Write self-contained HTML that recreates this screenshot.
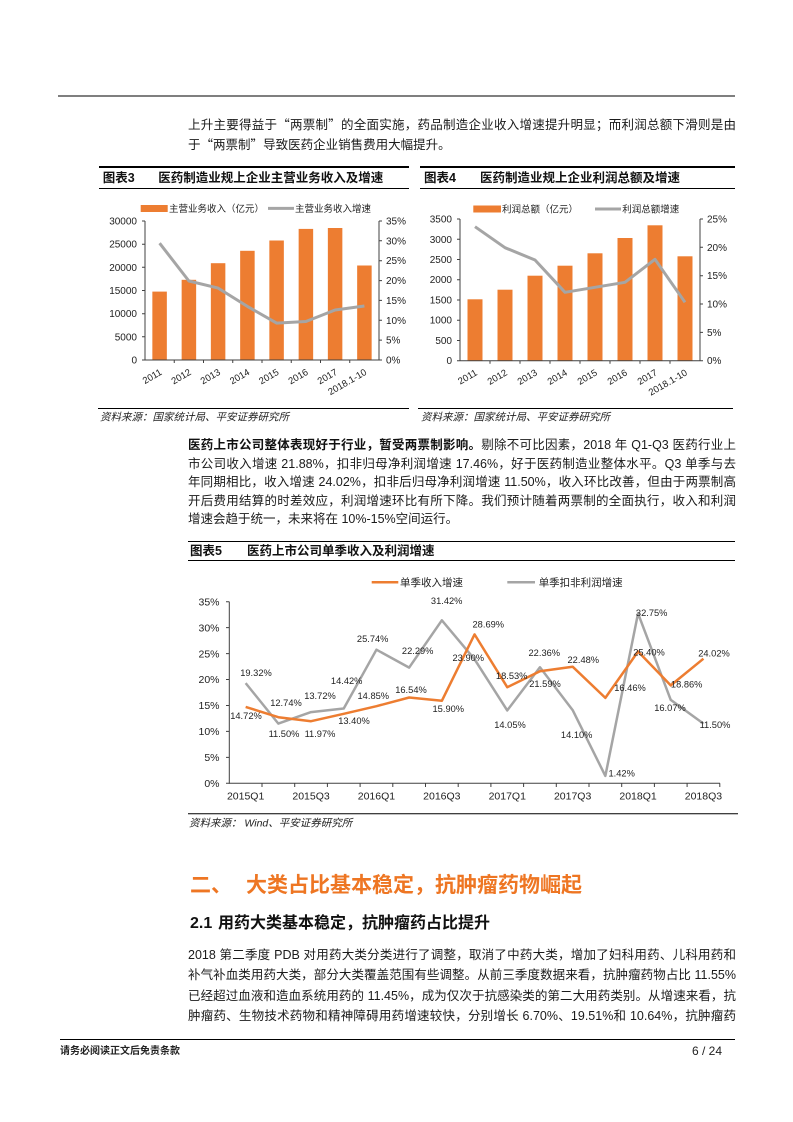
<!DOCTYPE html>
<html>
<head>
<meta charset="utf-8">
<style>
html,body{margin:0;padding:0;background:#fff;}
body{width:793px;height:1122px;position:relative;overflow:hidden;font-family:"Liberation Sans","Noto Sans CJK SC",sans-serif;color:#222;}
.ab{position:absolute;white-space:nowrap;}
.ln{position:absolute;left:188px;width:548px;white-space:nowrap;font-size:12.5px;line-height:18px;height:18px;text-align:justify;text-align-last:justify;color:#1a1a1a;}
.ll{text-align:left;text-align-last:left;}
.q{font-family:"Noto Sans CJK SC",sans-serif;}
.hd{position:absolute;font-size:12.5px;font-weight:700;line-height:16px;color:#111;white-space:nowrap;}
.rule{position:absolute;background:#000;}
svg text{font-family:"Liberation Sans","Noto Sans CJK SC",sans-serif;fill:#222;}
</style>
</head>
<body>

<div class="rule" style="left:58px;top:95px;width:677px;height:2px;background:#7f7f7f;"></div>

<div class="ln" style="top:115px;">上升主要得益于<span class="q">“</span>两票制<span class="q">”</span>的全面实施，药品制造企业收入增速提升明显；而利润总额下滑则是由</div>
<div class="ln ll" style="top:134.7px;">于<span class="q">“</span>两票制<span class="q">”</span>导致医药企业销售费用大幅提升。</div>

<div class="rule" style="left:99px;top:166px;width:310px;height:1.5px;"></div>
<div class="rule" style="left:99px;top:187.5px;width:310px;height:1px;"></div>
<div class="hd" style="left:102.7px;top:169.5px;">图表3</div>
<div class="hd" style="left:158.3px;top:169.5px;">医药制造业规上企业主营业务收入及增速</div>

<div class="rule" style="left:420px;top:166px;width:315px;height:1.5px;"></div>
<div class="rule" style="left:420px;top:187.5px;width:315px;height:1px;"></div>
<div class="hd" style="left:424px;top:169.5px;">图表4</div>
<div class="hd" style="left:480px;top:169.5px;">医药制造业规上企业利润总额及增速</div>

<div class="ln" style="top:436px;"><b style="color:#111;">医药上市公司整体表现好于行业，暂受两票制影响。</b>剔除不可比因素，2018 年 Q1-Q3 医药行业上</div>
<div class="ln" style="top:454.6px;">市公司收入增速 21.88%，扣非归母净利润增速 17.46%，好于医药制造业整体水平。Q3 单季与去</div>
<div class="ln" style="top:473.2px;">年同期相比，收入增速 24.02%，扣非后归母净利润增速 11.50%，收入环比改善，但由于两票制高</div>
<div class="ln" style="top:491.8px;">开后费用结算的时差效应，利润增速环比有所下降。我们预计随着两票制的全面执行，收入和利润</div>
<div class="ln ll" style="top:510.4px;">增速会趋于统一，未来将在 10%-15%空间运行。</div>

<div class="rule" style="left:188px;top:540.5px;width:547px;height:1.5px;"></div>
<div class="rule" style="left:188px;top:559.5px;width:547px;height:1px;"></div>
<div class="hd" style="left:190px;top:543px;">图表5</div>
<div class="hd" style="left:247px;top:543px;">医药上市公司单季收入及利润增速</div>

<div class="ab" style="left:190px;top:873px;font-size:21px;line-height:26px;font-weight:700;color:#EE7623;">二、</div>
<div class="ab" style="left:246px;top:873px;font-size:21px;line-height:26px;font-weight:700;color:#EE7623;">大类占比基本稳定，抗肿瘤药物崛起</div>
<div class="ab" style="left:190px;top:913px;font-size:16px;line-height:21px;font-weight:700;color:#111;">2.1</div>
<div class="ab" style="left:218px;top:913px;font-size:16px;line-height:21px;font-weight:700;color:#111;">用药大类基本稳定，抗肿瘤药占比提升</div>

<div class="ln" style="top:945.5px;">2018 第二季度 PDB 对用药大类分类进行了调整，取消了中药大类，增加了妇科用药、儿科用药和</div>
<div class="ln" style="top:966px;">补气补血类用药大类，部分大类覆盖范围有些调整。从前三季度数据来看，抗肿瘤药物占比 11.55%</div>
<div class="ln" style="top:986.5px;">已经超过血液和造血系统用药的 11.45%，成为仅次于抗感染类的第二大用药类别。从增速来看，抗</div>
<div class="ln" style="top:1007px;">肿瘤药、生物技术药物和精神障碍用药增速较快，分别增长 6.70%、19.51%和 10.64%，抗肿瘤药</div>

<div class="rule" style="left:60px;top:1039px;width:675px;height:1px;"></div>
<div class="ab" style="left:60px;top:1045px;font-size:10px;line-height:13px;font-weight:700;color:#222;">请务必阅读正文后免责条款</div>
<div class="ab" style="left:682px;width:40px;text-align:right;top:1044px;font-size:12px;line-height:15px;color:#222;">6 / 24</div>

<svg width="793" height="1122" style="position:absolute;left:0;top:0;" xmlns="http://www.w3.org/2000/svg">
<g>
<rect x="140.7" y="205" width="27" height="7" fill="#ED7D31"/>
<text x="169" y="211.8" font-size="9.5">主营业务收入（亿元）</text>
<line x1="268" y1="208.4" x2="294" y2="208.4" stroke="#A5A5A5" stroke-width="3"/>
<text x="295" y="211.8" font-size="9.5">主营业务收入增速</text>

<g fill="#ED7D31">
<rect x="152.35" y="291.6" width="14.5" height="68.4"/>
<rect x="181.65" y="279.8" width="14.5" height="80.2"/>
<rect x="210.85" y="263.2" width="14.5" height="96.8"/>
<rect x="240.15" y="250.8" width="14.5" height="109.2"/>
<rect x="269.35" y="240.5" width="14.5" height="119.5"/>
<rect x="298.65" y="228.9" width="14.5" height="131.1"/>
<rect x="327.85" y="228" width="14.5" height="132"/>
<rect x="357.15" y="265.5" width="14.5" height="94.5"/>
</g>
<g stroke="#404040" stroke-width="1" fill="none">
<line x1="145" y1="221" x2="145" y2="360.5"/>
<line x1="145" y1="360" x2="379" y2="360"/>
<line x1="379" y1="221" x2="379" y2="360.5"/>
<path d="M142 360H145M142 336.8H145M142 313.7H145M142 290.5H145M142 267.3H145M142 244.2H145M142 221H145"/>
<path d="M379 360H382M379 340.1H382M379 320.3H382M379 300.4H382M379 280.6H382M379 260.7H382M379 240.8H382M379 221H382"/>
<path d="M174.25 360V363M203.5 360V363M232.75 360V363M262 360V363M291.25 360V363M320.5 360V363M349.75 360V363"/>
</g>
<polyline points="159.6,243.2 188.9,281 218.1,288.1 247.4,306.4 276.6,323.1 305.9,321.5 335.1,310 364.4,306" fill="none" stroke="#A5A5A5" stroke-width="3" stroke-linejoin="round"/>
<g font-size="10" text-anchor="end">
<text x="137" y="363.5">0</text>
<text x="137" y="340.3">5000</text>
<text x="137" y="317.2">10000</text>
<text x="137" y="294">15000</text>
<text x="137" y="270.8">20000</text>
<text x="137" y="247.7">25000</text>
<text x="137" y="224.5">30000</text>
</g>
<g font-size="10">
<text x="386" y="363.5">0%</text>
<text x="386" y="343.6">5%</text>
<text x="386" y="323.8">10%</text>
<text x="386" y="303.9">15%</text>
<text x="386" y="284.1">20%</text>
<text x="386" y="264.2">25%</text>
<text x="386" y="244.3">30%</text>
<text x="386" y="224.5">35%</text>
</g>
<g font-size="9.5" text-anchor="end">
<text x="162.6" y="374" transform="rotate(-30 162.6 374)">2011</text>
<text x="191.9" y="374" transform="rotate(-30 191.9 374)">2012</text>
<text x="221.1" y="374" transform="rotate(-30 221.1 374)">2013</text>
<text x="250.4" y="374" transform="rotate(-30 250.4 374)">2014</text>
<text x="279.6" y="374" transform="rotate(-30 279.6 374)">2015</text>
<text x="308.9" y="374" transform="rotate(-30 308.9 374)">2016</text>
<text x="338.1" y="374" transform="rotate(-30 338.1 374)">2017</text>
<text x="367.4" y="374" transform="rotate(-30 367.4 374)">2018.1-10</text>
</g>
<line x1="98" y1="408.5" x2="409" y2="408.5" stroke="#000" stroke-width="1"/>
<text x="100" y="420.5" font-size="10.5" font-style="italic" fill="#333">资料来源：国家统计局、平安证券研究所</text>
</g>

<g>
<rect x="473.3" y="205.5" width="27.7" height="7" fill="#ED7D31"/>
<text x="502" y="212.3" font-size="9.5">利润总额（亿元）</text>
<line x1="595" y1="209" x2="621" y2="209" stroke="#A5A5A5" stroke-width="3"/>
<text x="622.3" y="212.3" font-size="9.5">利润总额增速</text>

<g fill="#ED7D31">
<rect x="467.5" y="299.3" width="15" height="61.4"/>
<rect x="497.5" y="289.7" width="15" height="71"/>
<rect x="527.5" y="275.7" width="15" height="85"/>
<rect x="557.5" y="265.7" width="15" height="95"/>
<rect x="587.5" y="253.3" width="15" height="107.4"/>
<rect x="617.5" y="238" width="15" height="122.7"/>
<rect x="647.5" y="225.3" width="15" height="135.4"/>
<rect x="677.5" y="256.3" width="15" height="104.4"/>
</g>
<g stroke="#404040" stroke-width="1" fill="none">
<line x1="460" y1="219" x2="460" y2="361"/>
<line x1="460" y1="360.7" x2="700" y2="360.7"/>
<line x1="700" y1="219" x2="700" y2="361"/>
<path d="M457 360.7H460M457 340.5H460M457 320.2H460M457 300H460M457 279.7H460M457 259.5H460M457 239.3H460M457 219H460"/>
<path d="M700 360.7H703M700 332.4H703M700 304H703M700 275.7H703M700 247.3H703M700 219H703"/>
<path d="M490 360.7V363.7M520 360.7V363.7M550 360.7V363.7M580 360.7V363.7M610 360.7V363.7M640 360.7V363.7M670 360.7V363.7"/>
</g>
<polyline points="475,226.7 505,247.7 535,260 565,292.3 595,287.3 625,282.3 655,259.3 685,302.3" fill="none" stroke="#A5A5A5" stroke-width="3" stroke-linejoin="round"/>
<g font-size="10" text-anchor="end">
<text x="452" y="364.2">0</text>
<text x="452" y="344">500</text>
<text x="452" y="323.7">1000</text>
<text x="452" y="303.5">1500</text>
<text x="452" y="283.2">2000</text>
<text x="452" y="263">2500</text>
<text x="452" y="242.8">3000</text>
<text x="452" y="222.5">3500</text>
</g>
<g font-size="10">
<text x="707" y="364.2">0%</text>
<text x="707" y="335.9">5%</text>
<text x="707" y="307.5">10%</text>
<text x="707" y="279.2">15%</text>
<text x="707" y="250.8">20%</text>
<text x="707" y="222.5">25%</text>
</g>
<g font-size="9.5" text-anchor="end">
<text x="478" y="374.5" transform="rotate(-30 478 374.5)">2011</text>
<text x="508" y="374.5" transform="rotate(-30 508 374.5)">2012</text>
<text x="538" y="374.5" transform="rotate(-30 538 374.5)">2013</text>
<text x="568" y="374.5" transform="rotate(-30 568 374.5)">2014</text>
<text x="598" y="374.5" transform="rotate(-30 598 374.5)">2015</text>
<text x="628" y="374.5" transform="rotate(-30 628 374.5)">2016</text>
<text x="658" y="374.5" transform="rotate(-30 658 374.5)">2017</text>
<text x="688" y="374.5" transform="rotate(-30 688 374.5)">2018.1-10</text>
</g>
<line x1="418" y1="408.5" x2="733" y2="408.5" stroke="#000" stroke-width="1"/>
<text x="421" y="420.5" font-size="10.5" font-style="italic" fill="#333">资料来源：国家统计局、平安证券研究所</text>
</g>

<g>
<line x1="371.7" y1="582.3" x2="398.3" y2="582.3" stroke="#ED7D31" stroke-width="2.5"/>
<text x="400" y="586.2" font-size="10.5">单季收入增速</text>
<line x1="507.3" y1="582.3" x2="535" y2="582.3" stroke="#A5A5A5" stroke-width="2.5"/>
<text x="538.7" y="586.2" font-size="10.5">单季扣非利润增速</text>

<g stroke="#404040" stroke-width="1" fill="none">
<line x1="229.3" y1="601.7" x2="229.3" y2="783.8"/>
<line x1="229.3" y1="783.3" x2="720" y2="783.3"/>
<path d="M226 783.3H229.3M226 757.4H229.3M226 731.4H229.3M226 705.5H229.3M226 679.5H229.3M226 653.6H229.3M226 627.6H229.3M226 601.7H229.3"/>
<path d="M262 783.3V787M294.7 783.3V787M327.4 783.3V787M360.1 783.3V787M392.8 783.3V787M425.5 783.3V787M458.2 783.3V787M490.9 783.3V787M523.6 783.3V787M556.3 783.3V787M589 783.3V787M621.7 783.3V787M654.4 783.3V787M687.1 783.3V787M719.8 783.3V787"/>
</g>
<polyline points="245.65,683.1 278.35,723.6 311.05,712.1 343.75,708.5 376.45,649.7 409.15,667.6 441.85,620.3 474.55,659.3 507.25,710.4 539.95,667.3 572.65,710.1 605.35,775.9 638.05,613.4 670.75,699.9 703.45,723.6" fill="none" stroke="#A5A5A5" stroke-width="2.5" stroke-linejoin="round"/>
<polyline points="245.65,706.9 278.35,717.2 311.05,721.2 343.75,713.8 376.45,706.2 409.15,697.5 441.85,700.8 474.55,634.4 507.25,687.2 539.95,671.3 572.65,666.7 605.35,697.9 638.05,651.5 670.75,685.4 703.45,658.7" fill="none" stroke="#ED7D31" stroke-width="2.5" stroke-linejoin="round"/>

<g font-size="10.5" text-anchor="end">
<text x="219.5" y="787">0%</text>
<text x="219.5" y="761.1">5%</text>
<text x="219.5" y="735.1">10%</text>
<text x="219.5" y="709.2">15%</text>
<text x="219.5" y="683.2">20%</text>
<text x="219.5" y="657.3">25%</text>
<text x="219.5" y="631.3">30%</text>
<text x="219.5" y="605.4">35%</text>
</g>
<g font-size="10.5" text-anchor="middle">
<text x="245.65" y="799.5">2015Q1</text>
<text x="311.05" y="799.5">2015Q3</text>
<text x="376.45" y="799.5">2016Q1</text>
<text x="441.85" y="799.5">2016Q3</text>
<text x="507.25" y="799.5">2017Q1</text>
<text x="572.65" y="799.5">2017Q3</text>
<text x="638.05" y="799.5">2018Q1</text>
<text x="703.45" y="799.5">2018Q3</text>
</g>
<g font-size="9.3" text-anchor="middle">
<text x="256" y="676">19.32%</text>
<text x="246" y="719.2">14.72%</text>
<text x="286" y="705.9">12.74%</text>
<text x="284" y="737.2">11.50%</text>
<text x="320" y="699.2">13.72%</text>
<text x="320" y="737.2">11.97%</text>
<text x="346.7" y="684.2">14.42%</text>
<text x="354" y="723.9">13.40%</text>
<text x="372.7" y="642.2">25.74%</text>
<text x="373.3" y="699.2">14.85%</text>
<text x="417.7" y="654.2">22.29%</text>
<text x="411" y="693.2">16.54%</text>
<text x="446.7" y="603.9">31.42%</text>
<text x="448.3" y="712.2">15.90%</text>
<text x="468.3" y="660.9">23.90%</text>
<text x="488.3" y="627.5">28.69%</text>
<text x="511.7" y="679.2">18.53%</text>
<text x="510" y="728.2">14.05%</text>
<text x="544.3" y="655.9">22.36%</text>
<text x="545" y="687.2">21.59%</text>
<text x="583.3" y="663.2">22.48%</text>
<text x="576.7" y="738.2">14.10%</text>
<text x="621.7" y="776.5">1.42%</text>
<text x="630" y="690.9">16.46%</text>
<text x="651.7" y="615.9">32.75%</text>
<text x="649" y="655.5">25.40%</text>
<text x="686.7" y="687.5">18.86%</text>
<text x="670" y="710.9">16.07%</text>
<text x="714" y="656.5">24.02%</text>
<text x="715" y="728.2">11.50%</text>
</g>
<line x1="188" y1="813.8" x2="738" y2="813.8" stroke="#000" stroke-width="1"/>
<text x="189" y="826.5" font-size="10.5" font-style="italic" fill="#333">资料来源：  Wind、平安证券研究所</text>
</g>
</svg>

</body>
</html>
